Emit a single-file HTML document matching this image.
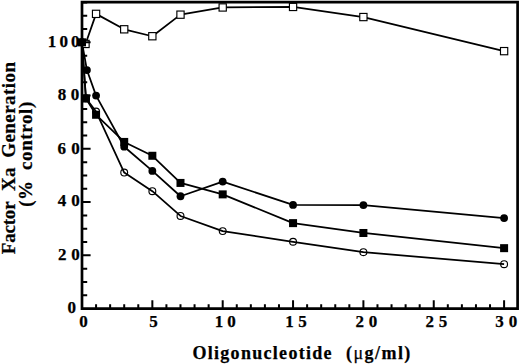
<!DOCTYPE html>
<html><head><meta charset="utf-8"><style>
html,body{margin:0;padding:0;background:#fff;}
svg{display:block;}
text{stroke:#000;stroke-width:0.25px;}
.t{font-family:"Liberation Serif",serif;font-weight:bold;font-size:17px;}
.ti{font-family:"Liberation Serif",serif;font-weight:bold;font-size:18px;}
.ty{font-family:"Liberation Serif",serif;font-weight:bold;font-size:19px;}
.mu{font-weight:normal;}
</style></head><body>
<svg width="520" height="364" viewBox="0 0 520 364">
<polyline points="85.52,43.95 96.07,13.86 124.21,29.30 152.35,36.23 180.49,14.66 222.70,7.47 293.05,6.94 363.40,17.06 504.10,51.14" fill="none" stroke="#000" stroke-width="1.75" stroke-linejoin="round"/>
<polyline points="82.00,42.35 86.92,70.04 96.07,95.60 124.21,146.72 152.35,170.95 180.49,196.24 222.70,181.60 293.05,204.90 363.40,205.03 504.10,218.08" fill="none" stroke="#000" stroke-width="1.75" stroke-linejoin="round"/>
<polyline points="82.00,42.35 85.94,98.53 96.07,114.77 124.21,141.93 152.35,155.77 180.49,182.93 222.70,194.38 293.05,223.13 363.40,232.99 504.10,248.16" fill="none" stroke="#000" stroke-width="1.75" stroke-linejoin="round"/>
<polyline points="82.00,42.35 85.94,98.26 96.07,111.58 124.21,172.55 152.35,191.18 180.49,215.95 222.70,231.12 293.05,241.77 363.40,252.16 504.10,264.14" fill="none" stroke="#000" stroke-width="1.75" stroke-linejoin="round"/>
<circle cx="82.00" cy="42.35" r="3.42" fill="none" stroke="#000" stroke-width="1.15"/>
<circle cx="85.94" cy="98.26" r="3.42" fill="none" stroke="#000" stroke-width="1.15"/>
<circle cx="96.07" cy="111.58" r="3.42" fill="none" stroke="#000" stroke-width="1.15"/>
<circle cx="124.21" cy="172.55" r="3.42" fill="none" stroke="#000" stroke-width="1.15"/>
<circle cx="152.35" cy="191.18" r="3.42" fill="none" stroke="#000" stroke-width="1.15"/>
<circle cx="180.49" cy="215.95" r="3.42" fill="none" stroke="#000" stroke-width="1.15"/>
<circle cx="222.70" cy="231.12" r="3.42" fill="none" stroke="#000" stroke-width="1.15"/>
<circle cx="293.05" cy="241.77" r="3.42" fill="none" stroke="#000" stroke-width="1.15"/>
<circle cx="363.40" cy="252.16" r="3.42" fill="none" stroke="#000" stroke-width="1.15"/>
<circle cx="504.10" cy="264.14" r="3.42" fill="none" stroke="#000" stroke-width="1.15"/>
<rect x="81.89" y="40.32" width="7.25" height="7.25" fill="#fff" stroke="#000" stroke-width="1.15"/>
<rect x="92.44" y="10.24" width="7.25" height="7.25" fill="#fff" stroke="#000" stroke-width="1.15"/>
<rect x="120.59" y="25.68" width="7.25" height="7.25" fill="#fff" stroke="#000" stroke-width="1.15"/>
<rect x="148.72" y="32.60" width="7.25" height="7.25" fill="#fff" stroke="#000" stroke-width="1.15"/>
<rect x="176.87" y="11.04" width="7.25" height="7.25" fill="#fff" stroke="#000" stroke-width="1.15"/>
<rect x="219.07" y="3.85" width="7.25" height="7.25" fill="#fff" stroke="#000" stroke-width="1.15"/>
<rect x="289.43" y="3.31" width="7.25" height="7.25" fill="#fff" stroke="#000" stroke-width="1.15"/>
<rect x="359.77" y="13.43" width="7.25" height="7.25" fill="#fff" stroke="#000" stroke-width="1.15"/>
<rect x="500.48" y="47.51" width="7.25" height="7.25" fill="#fff" stroke="#000" stroke-width="1.15"/>
<rect x="78.00" y="38.35" width="8.0" height="8.0" fill="#000"/>
<rect x="81.94" y="94.53" width="8.0" height="8.0" fill="#000"/>
<rect x="92.07" y="110.77" width="8.0" height="8.0" fill="#000"/>
<rect x="120.21" y="137.93" width="8.0" height="8.0" fill="#000"/>
<rect x="148.35" y="151.77" width="8.0" height="8.0" fill="#000"/>
<rect x="176.49" y="178.93" width="8.0" height="8.0" fill="#000"/>
<rect x="218.70" y="190.38" width="8.0" height="8.0" fill="#000"/>
<rect x="289.05" y="219.13" width="8.0" height="8.0" fill="#000"/>
<rect x="359.40" y="228.99" width="8.0" height="8.0" fill="#000"/>
<rect x="500.10" y="244.16" width="8.0" height="8.0" fill="#000"/>
<circle cx="82.00" cy="42.35" r="3.9" fill="#000"/>
<circle cx="86.92" cy="70.04" r="3.9" fill="#000"/>
<circle cx="96.07" cy="95.60" r="3.9" fill="#000"/>
<circle cx="124.21" cy="146.72" r="3.9" fill="#000"/>
<circle cx="152.35" cy="170.95" r="3.9" fill="#000"/>
<circle cx="180.49" cy="196.24" r="3.9" fill="#000"/>
<circle cx="222.70" cy="181.60" r="3.9" fill="#000"/>
<circle cx="293.05" cy="204.90" r="3.9" fill="#000"/>
<circle cx="363.40" cy="205.03" r="3.9" fill="#000"/>
<circle cx="504.10" cy="218.08" r="3.9" fill="#000"/>
<path d="M96.07 308.7V304.30 M110.14 308.7V304.30 M124.21 308.7V304.30 M138.28 308.7V304.30 M152.35 308.7V300.30 M166.42 308.7V304.30 M180.49 308.7V304.30 M194.56 308.7V304.30 M208.63 308.7V304.30 M222.70 308.7V300.30 M236.77 308.7V304.30 M250.84 308.7V304.30 M264.91 308.7V304.30 M278.98 308.7V304.30 M293.05 308.7V300.30 M307.12 308.7V304.30 M321.19 308.7V304.30 M335.26 308.7V304.30 M349.33 308.7V304.30 M363.40 308.7V300.30 M377.47 308.7V304.30 M391.54 308.7V304.30 M405.61 308.7V304.30 M419.68 308.7V304.30 M433.75 308.7V300.30 M447.82 308.7V304.30 M461.89 308.7V304.30 M475.96 308.7V304.30 M490.03 308.7V304.30 M504.10 308.7V300.30 M82.0 295.29H87.20 M82.0 281.98H87.20 M82.0 268.66H87.20 M82.0 255.35H90.60 M82.0 242.04H87.20 M82.0 228.73H87.20 M82.0 215.41H87.20 M82.0 202.10H90.60 M82.0 188.79H87.20 M82.0 175.48H87.20 M82.0 162.16H87.20 M82.0 148.85H90.60 M82.0 135.54H87.20 M82.0 122.23H87.20 M82.0 108.91H87.20 M82.0 95.60H90.60 M82.0 82.29H87.20 M82.0 68.98H87.20 M82.0 55.66H87.20 M82.0 42.35H90.60 M82.0 29.04H87.20 M82.0 15.73H87.20 M82.0 2.41H87.20" stroke="#000" stroke-width="2" fill="none"/>
<path d="M82.0 2.2H517.6V308.7H82.0Z" fill="none" stroke="#000" stroke-width="2.7" stroke-linejoin="miter"/>
<text x="47.64" y="46.90" class="t">1</text>
<text x="59.55" y="46.90" class="t">0</text>
<text x="71.05" y="46.90" class="t">0</text>
<text x="57.64" y="99.80" class="t">8</text>
<text x="70.65" y="99.80" class="t">0</text>
<text x="57.62" y="153.50" class="t">6</text>
<text x="71.35" y="153.50" class="t">0</text>
<text x="57.67" y="206.30" class="t">4</text>
<text x="71.35" y="206.30" class="t">0</text>
<text x="57.89" y="259.50" class="t">2</text>
<text x="71.35" y="259.50" class="t">0</text>
<text x="67.55" y="312.90" class="t">0</text>
<text x="79.15" y="327.30" class="t">0</text>
<text x="149.22" y="327.30" class="t">5</text>
<text x="214.64" y="327.30" class="t">1</text>
<text x="227.35" y="327.30" class="t">0</text>
<text x="285.24" y="327.30" class="t">1</text>
<text x="298.32" y="327.30" class="t">5</text>
<text x="355.49" y="327.30" class="t">2</text>
<text x="368.75" y="327.30" class="t">0</text>
<text x="425.49" y="327.30" class="t">2</text>
<text x="438.72" y="327.30" class="t">5</text>
<text x="495.16" y="327.30" class="t">3</text>
<text x="508.75" y="327.30" class="t">0</text>
<text x="192.4" y="358.9" class="ti" letter-spacing="1.3">Oligonucleotide</text>
<text x="346.0" y="358.9" class="ti" letter-spacing="1.45">(<tspan class="mu">&#956;</tspan>g/ml)</text>
<text transform="translate(14.8 254.2) rotate(-90)" class="ty" letter-spacing="-0.2">Factor</text>
<text transform="translate(14.8 191.0) rotate(-90)" class="ty" letter-spacing="0.3">Xa</text>
<text transform="translate(14.8 157.8) rotate(-90)" class="ty" letter-spacing="0.45">Generation</text>
<text transform="translate(32.3 206.8) rotate(-90)" class="ty" letter-spacing="0">(</text>
<text transform="translate(32.3 200.0) rotate(-90)" class="ty" letter-spacing="0">%</text>
<text transform="translate(32.3 170.0) rotate(-90)" class="ty" letter-spacing="0.6">control)</text>
</svg>
</body></html>
